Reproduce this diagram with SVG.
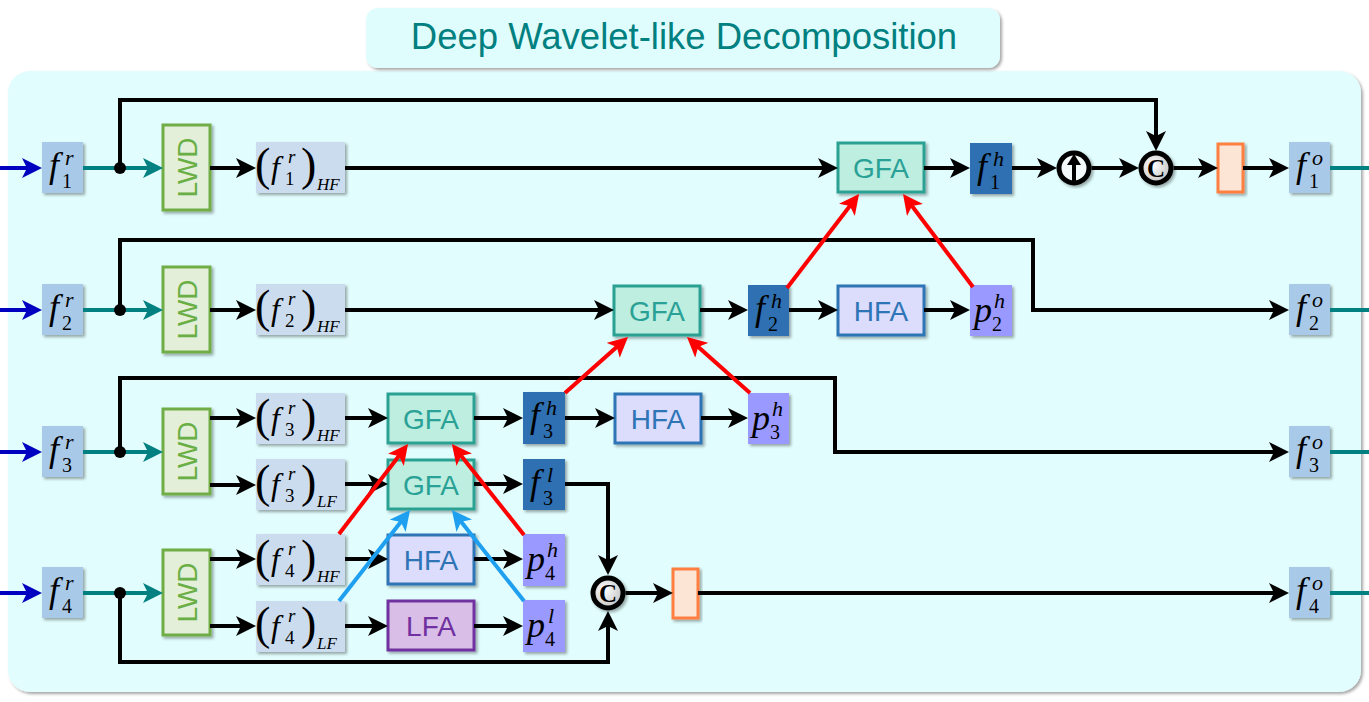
<svg xmlns="http://www.w3.org/2000/svg" width="1369" height="702" viewBox="0 0 1369 702">
<defs>
<filter id="sh" x="-20%" y="-20%" width="140%" height="140%"><feDropShadow dx="2" dy="2" stdDeviation="1.5" flood-color="#000" flood-opacity="0.35"/></filter>
<marker id="ak" viewBox="0 0 20 20" refX="15" refY="10" markerWidth="20" markerHeight="20" markerUnits="userSpaceOnUse" orient="auto"><path d="M0,0 L20,10 L0,20 L5,10 Z" fill="#000"/></marker>
<marker id="ar" viewBox="0 0 20 20" refX="15" refY="10" markerWidth="20" markerHeight="20" markerUnits="userSpaceOnUse" orient="auto"><path d="M0,0 L20,10 L0,20 L5,10 Z" fill="#ff0000"/></marker>
<marker id="ab" viewBox="0 0 20 20" refX="15" refY="10" markerWidth="20" markerHeight="20" markerUnits="userSpaceOnUse" orient="auto"><path d="M0,0 L20,10 L0,20 L5,10 Z" fill="#1f9ff0"/></marker>
<marker id="ad" viewBox="0 0 20 20" refX="15" refY="10" markerWidth="20" markerHeight="20" markerUnits="userSpaceOnUse" orient="auto"><path d="M0,0 L20,10 L0,20 L5,10 Z" fill="#0000c0"/></marker>
<marker id="at" viewBox="0 0 20 20" refX="15" refY="10" markerWidth="20" markerHeight="20" markerUnits="userSpaceOnUse" orient="auto"><path d="M0,0 L20,10 L0,20 L5,10 Z" fill="#008080"/></marker>
<radialGradient id="cg" cx="0.4" cy="0.4" r="0.7"><stop offset="0" stop-color="#ffffff"/><stop offset="1" stop-color="#bdbdbd"/></radialGradient>
</defs>
<style>
.m{font-family:"Liberation Serif","Times New Roman",serif;fill:#000;}
.i{font-style:italic;}
.n{font-style:normal;}
.big{font-size:36px;}
.s{font-size:20px;}
.i.s{font-size:22px;}
.par{font-size:46px;font-style:normal;}
.sf{font-size:32px;font-style:italic;}
.ss{font-size:19px;}
.hf{font-size:17px;font-style:italic;}
.lbl{font-family:"Liberation Sans",Arial,sans-serif;font-size:28px;text-anchor:middle;}
.fr{fill:#a9c9e9;filter:url(#sh);}
.fhf{fill:#cbdcee;filter:url(#sh);}
.fd{fill:#2e70b2;filter:url(#sh);}
.fp{fill:#9999ff;filter:url(#sh);}
.lwd{fill:#e3efd8;stroke:#70ad47;stroke-width:3;filter:url(#sh);}
.gfa{fill:#bdeedf;stroke:#2aa193;stroke-width:3;filter:url(#sh);}
.hfa{fill:#dcdcfc;stroke:#2e75b6;stroke-width:3;filter:url(#sh);}
.lfa{fill:#d9bfe7;stroke:#7030a0;stroke-width:3;filter:url(#sh);}
.org{fill:#fde5d6;stroke:#ff7f3f;stroke-width:3;filter:url(#sh);}
.circ{stroke:#000;stroke-width:5;}
.k{fill:none;stroke:#000;stroke-width:4;marker-end:url(#ak);}
.r{fill:none;stroke:#ff0000;stroke-width:4;marker-end:url(#ar);}
.b{fill:none;stroke:#1f9ff0;stroke-width:4;marker-end:url(#ab);}
.d{fill:none;stroke:#0000c0;stroke-width:4;marker-end:url(#ad);}
.t{fill:none;stroke:#008080;stroke-width:4;marker-end:url(#at);}
.tn{fill:none;stroke:#008080;stroke-width:4;}
</style>

<g id="panel"><rect x="8" y="71" width="1353" height="621" rx="22" fill="#e1fdfd" filter="url(#sh)"/></g>
<g id="title"><rect x="366" y="8" width="634" height="60" rx="12" fill="#e0fdfd" filter="url(#sh)"/><text x="684" y="49" font-family="Liberation Sans,Arial,sans-serif" font-size="36.5" fill="#008080" text-anchor="middle">Deep Wavelet-like Decomposition</text></g>

<!-- inputs -->
<g id="in1"><rect class="fr" x="42" y="142" width="41" height="51"/><text class="m"><tspan class="i big" x="49" y="177">f</tspan><tspan class="i s" x="65" y="165">r</tspan><tspan class="n s" x="62" y="188">1</tspan></text></g>
<g id="in2"><rect class="fr" x="42" y="284" width="41" height="51"/><text class="m"><tspan class="i big" x="49" y="319">f</tspan><tspan class="i s" x="65" y="307">r</tspan><tspan class="n s" x="62" y="330">2</tspan></text></g>
<g id="in3"><rect class="fr" x="42" y="426" width="41" height="51"/><text class="m"><tspan class="i big" x="49" y="461">f</tspan><tspan class="i s" x="65" y="449">r</tspan><tspan class="n s" x="62" y="472">3</tspan></text></g>
<g id="in4"><rect class="fr" x="42" y="567" width="41" height="51"/><text class="m"><tspan class="i big" x="49" y="602">f</tspan><tspan class="i s" x="65" y="590">r</tspan><tspan class="n s" x="62" y="613">4</tspan></text></g>

<!-- outputs -->
<g id="out1"><rect class="fr" x="1289" y="142" width="41" height="51"/><text class="m"><tspan class="i big" x="1296" y="177">f</tspan><tspan class="i s" x="1312" y="165">o</tspan><tspan class="n s" x="1309" y="188">1</tspan></text></g>
<g id="out2"><rect class="fr" x="1289" y="284" width="41" height="51"/><text class="m"><tspan class="i big" x="1296" y="319">f</tspan><tspan class="i s" x="1312" y="307">o</tspan><tspan class="n s" x="1309" y="330">2</tspan></text></g>
<g id="out3"><rect class="fr" x="1289" y="426" width="41" height="51"/><text class="m"><tspan class="i big" x="1296" y="461">f</tspan><tspan class="i s" x="1312" y="449">o</tspan><tspan class="n s" x="1309" y="472">3</tspan></text></g>
<g id="out4"><rect class="fr" x="1289" y="567" width="41" height="51"/><text class="m"><tspan class="i big" x="1296" y="602">f</tspan><tspan class="i s" x="1312" y="590">o</tspan><tspan class="n s" x="1309" y="613">4</tspan></text></g>

<!-- LWD -->
<g id="lwd1"><rect class="lwd" x="163" y="125" width="47" height="85"/><text class="lbl" fill="#6aaf45" x="186.5" y="177.5" transform="rotate(-90 186.5 167.5)">LWD</text></g>
<g id="lwd2"><rect class="lwd" x="163" y="267" width="47" height="85"/><text class="lbl" fill="#6aaf45" x="186.5" y="319.5" transform="rotate(-90 186.5 309.5)">LWD</text></g>
<g id="lwd3"><rect class="lwd" x="163" y="409" width="47" height="85"/><text class="lbl" fill="#6aaf45" x="186.5" y="461.5" transform="rotate(-90 186.5 451.5)">LWD</text></g>
<g id="lwd4"><rect class="lwd" x="163" y="550" width="47" height="85"/><text class="lbl" fill="#6aaf45" x="186.5" y="602.5" transform="rotate(-90 186.5 592.5)">LWD</text></g>

<!-- HF / LF boxes -->
<g id="hf1"><rect class="fhf" x="256" y="142" width="89" height="51"/><text class="m"><tspan class="par" x="255" y="180">(</tspan><tspan class="sf" x="271" y="178">f</tspan><tspan class="i ss" x="288" y="163">r</tspan><tspan class="n ss" x="285" y="185">1</tspan><tspan class="par" x="301" y="180">)</tspan><tspan class="hf" x="317" y="190">HF</tspan></text></g>
<g id="hf2"><rect class="fhf" x="256" y="284" width="89" height="51"/><text class="m"><tspan class="par" x="255" y="322">(</tspan><tspan class="sf" x="271" y="320">f</tspan><tspan class="i ss" x="288" y="305">r</tspan><tspan class="n ss" x="285" y="327">2</tspan><tspan class="par" x="301" y="322">)</tspan><tspan class="hf" x="317" y="332">HF</tspan></text></g>
<g id="hf3"><rect class="fhf" x="256" y="393" width="89" height="51"/><text class="m"><tspan class="par" x="255" y="431">(</tspan><tspan class="sf" x="271" y="429">f</tspan><tspan class="i ss" x="288" y="414">r</tspan><tspan class="n ss" x="285" y="436">3</tspan><tspan class="par" x="301" y="431">)</tspan><tspan class="hf" x="317" y="441">HF</tspan></text></g>
<g id="lf3"><rect class="fhf" x="256" y="459" width="89" height="51"/><text class="m"><tspan class="par" x="255" y="497">(</tspan><tspan class="sf" x="271" y="495">f</tspan><tspan class="i ss" x="288" y="480">r</tspan><tspan class="n ss" x="285" y="502">3</tspan><tspan class="par" x="301" y="497">)</tspan><tspan class="hf" x="317" y="507">LF</tspan></text></g>
<g id="hf4"><rect class="fhf" x="256" y="534" width="89" height="51"/><text class="m"><tspan class="par" x="255" y="572">(</tspan><tspan class="sf" x="271" y="570">f</tspan><tspan class="i ss" x="288" y="555">r</tspan><tspan class="n ss" x="285" y="577">4</tspan><tspan class="par" x="301" y="572">)</tspan><tspan class="hf" x="317" y="582">HF</tspan></text></g>
<g id="lf4"><rect class="fhf" x="256" y="601" width="89" height="51"/><text class="m"><tspan class="par" x="255" y="639">(</tspan><tspan class="sf" x="271" y="637">f</tspan><tspan class="i ss" x="288" y="622">r</tspan><tspan class="n ss" x="285" y="644">4</tspan><tspan class="par" x="301" y="639">)</tspan><tspan class="hf" x="317" y="649">LF</tspan></text></g>

<!-- GFA / HFA / LFA -->
<g id="gfa1"><rect class="gfa" x="838" y="143" width="86" height="49"/><text class="lbl" fill="#2aa196" x="881" y="178">GFA</text></g>
<g id="gfa2"><rect class="gfa" x="614" y="286" width="86" height="49"/><text class="lbl" fill="#2aa196" x="657" y="321">GFA</text></g>
<g id="gfa3h"><rect class="gfa" x="388" y="394" width="86" height="49"/><text class="lbl" fill="#2aa196" x="431" y="429">GFA</text></g>
<g id="gfa3l"><rect class="gfa" x="388" y="460" width="86" height="49"/><text class="lbl" fill="#2aa196" x="431" y="495">GFA</text></g>
<g id="hfa2"><rect class="hfa" x="838" y="286" width="86" height="49"/><text class="lbl" fill="#2e75b6" x="881" y="321">HFA</text></g>
<g id="hfa3"><rect class="hfa" x="615" y="394" width="86" height="49"/><text class="lbl" fill="#2e75b6" x="658" y="429">HFA</text></g>
<g id="hfa4"><rect class="hfa" x="388" y="535" width="86" height="49"/><text class="lbl" fill="#2e75b6" x="431" y="570">HFA</text></g>
<g id="lfa4"><rect class="lfa" x="388" y="601" width="86" height="49"/><text class="lbl" fill="#7030a0" x="431" y="636">LFA</text></g>

<!-- f^h / f^l -->
<g id="fh1"><rect class="fd" x="970" y="143" width="42" height="51"/><text class="m"><tspan class="i big" x="977" y="178">f</tspan><tspan class="i s" x="993" y="166">h</tspan><tspan class="n s" x="990" y="189">1</tspan></text></g>
<g id="fh2"><rect class="fd" x="748" y="285" width="41" height="51"/><text class="m"><tspan class="i big" x="755" y="320">f</tspan><tspan class="i s" x="771" y="308">h</tspan><tspan class="n s" x="768" y="331">2</tspan></text></g>
<g id="fh3"><rect class="fd" x="523" y="392" width="42" height="52"/><text class="m"><tspan class="i big" x="530" y="427">f</tspan><tspan class="i s" x="546" y="415">h</tspan><tspan class="n s" x="543" y="438">3</tspan></text></g>
<g id="fl3"><rect class="fd" x="523" y="459" width="42" height="51"/><text class="m"><tspan class="i big" x="530" y="494">f</tspan><tspan class="i s" x="547" y="482">l</tspan><tspan class="n s" x="543" y="505">3</tspan></text></g>

<!-- p boxes -->
<g id="ph2"><rect class="fp" x="970" y="285" width="42" height="51"/><text class="m"><tspan class="i big" x="974" y="322">p</tspan><tspan class="i s" x="994" y="308">h</tspan><tspan class="n s" x="992" y="331">2</tspan></text></g>
<g id="ph3"><rect class="fp" x="748" y="393" width="41" height="51"/><text class="m"><tspan class="i big" x="752" y="430">p</tspan><tspan class="i s" x="772" y="416">h</tspan><tspan class="n s" x="770" y="439">3</tspan></text></g>
<g id="ph4"><rect class="fp" x="523" y="534" width="42" height="52"/><text class="m"><tspan class="i big" x="527" y="571">p</tspan><tspan class="i s" x="547" y="557">h</tspan><tspan class="n s" x="545" y="580">4</tspan></text></g>
<g id="pl4"><rect class="fp" x="523" y="600" width="42" height="52"/><text class="m"><tspan class="i big" x="527" y="637">p</tspan><tspan class="i s" x="548" y="623">l</tspan><tspan class="n s" x="545" y="646">4</tspan></text></g>

<!-- operators -->
<g id="up1"><circle class="circ" cx="1074" cy="168" r="15" fill="#f4fafa" filter="url(#sh)"/><line x1="1074" y1="181" x2="1074" y2="163" stroke="#000" stroke-width="4"/><polygon points="1074,154 1081,165 1067,165" fill="#000"/></g>
<g id="cat1"><circle class="circ" cx="1156" cy="168" r="15" fill="url(#cg)" filter="url(#sh)"/><text x="1156" y="177" font-family="Liberation Serif,serif" font-weight="bold" font-size="25" text-anchor="middle">C</text></g>
<g id="cat4"><circle class="circ" cx="608" cy="593" r="15" fill="url(#cg)" filter="url(#sh)"/><text x="608" y="602" font-family="Liberation Serif,serif" font-weight="bold" font-size="25" text-anchor="middle">C</text></g>
<g id="conv1"><rect class="org" x="1218" y="144" width="25" height="48"/></g>
<g id="conv4"><rect class="org" x="673" y="569" width="25" height="49"/></g>

<g id="connectors">
<!-- row 1 -->
<path class="d" d="M0,168 H37"/>
<path class="t" d="M83,168 H158"/>
<path class="k" d="M120,168 V100 H1156 V146"/>
<path class="k" d="M210,168 H251"/>
<path class="k" d="M345,168 H833"/>
<path class="k" d="M924,168 H965"/>
<path class="k" d="M1012,168 H1052"/>
<path class="k" d="M1091.5,168 H1134"/>
<path class="k" d="M1173.5,168 H1213"/>
<path class="k" d="M1243,168 H1284"/>
<path class="tn" d="M1330,168 H1369"/>
<!-- row 2 -->
<path class="d" d="M0,310 H37"/>
<path class="t" d="M83,310 H158"/>
<path class="k" d="M120,310 V240 H1033 V310 H1284"/>
<path class="k" d="M210,310 H251"/>
<path class="k" d="M345,310 H609"/>
<path class="k" d="M700,310 H743"/>
<path class="k" d="M789,310 H833"/>
<path class="k" d="M924,310 H965"/>
<path class="tn" d="M1330,310 H1369"/>
<path class="r" d="M787,288 L856,198"/>
<path class="r" d="M973,287 L906,198"/>
<!-- row 3 -->
<path class="d" d="M0,452 H37"/>
<path class="t" d="M83,452 H158"/>
<path class="k" d="M120,452 V378 H835 V452 H1284"/>
<path class="k" d="M210,418 H251"/>
<path class="k" d="M210,485 H251"/>
<path class="k" d="M345,418 H383"/>
<path class="k" d="M345,484 H383"/>
<path class="k" d="M474,418 H518"/>
<path class="k" d="M474,484 H518"/>
<path class="k" d="M565,418 H610"/>
<path class="k" d="M701,418 H743"/>
<path class="k" d="M565,484 H608 V570"/>
<path class="tn" d="M1330,452 H1369"/>
<path class="r" d="M565,393 L624.3,340.3"/>
<path class="r" d="M750,393 L690.7,340.3"/>
<!-- row 4 -->
<path class="d" d="M0,593 H37"/>
<path class="t" d="M83,593 H158"/>
<path class="k" d="M120,593 V662 H608 V616"/>
<path class="k" d="M210,559 H251"/>
<path class="k" d="M210,626 H251"/>
<path class="k" d="M345,559 H383"/>
<path class="k" d="M345,626 H383"/>
<path class="k" d="M474,559 H518"/>
<path class="k" d="M474,626 H518"/>
<path class="k" d="M625.5,593 H668"/>
<path class="k" d="M698,593 H1284"/>
<path class="tn" d="M1330,593 H1369"/>
<path class="r" d="M339,534 L405,448"/>
<path class="r" d="M524,535 L455,448"/>
<path class="b" d="M339,601 L407,514"/>
<path class="b" d="M524,601 L455,514"/>
<!-- junction dots -->
<circle cx="120" cy="168" r="6" fill="#000"/>
<circle cx="120" cy="310" r="6" fill="#000"/>
<circle cx="120" cy="452" r="6" fill="#000"/>
<circle cx="120" cy="593" r="6" fill="#000"/>
</g>
</svg>
